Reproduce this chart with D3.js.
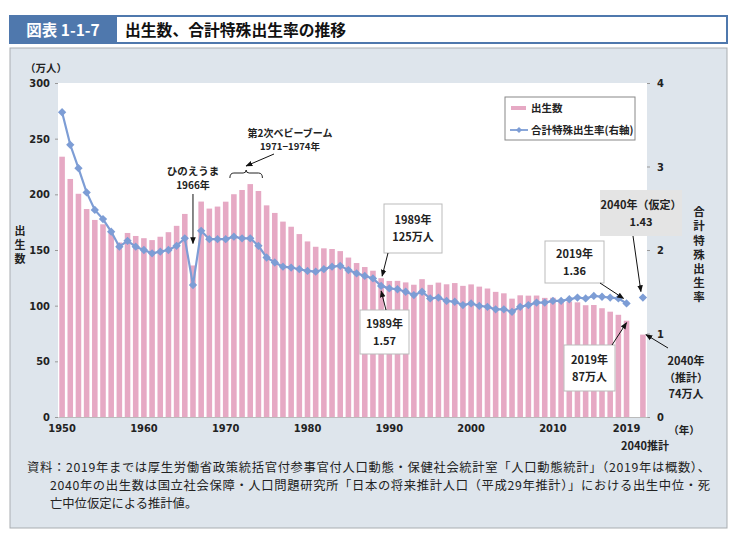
<!DOCTYPE html>
<html><head><meta charset="utf-8">
<script src="https://cdnjs.cloudflare.com/ajax/libs/d3/7.8.5/d3.min.js"></script>
<style>
body{margin:0;background:#fff;}
svg{display:block;font-family:"Noto Sans CJK JP",sans-serif;}
.num{font-family:"Liberation Sans Narrow","DejaVu Sans Condensed","Noto Sans CJK JP",sans-serif;}
.vt{writing-mode:vertical-rl;}
</style></head><body>
<svg id="c" width="734" height="536"></svg>
<script>
// ---- data ----
const years = [1950,1951,1952,1953,1954,1955,1956,1957,1958,1959,
  1960,1961,1962,1963,1964,1965,1966,1967,1968,1969,
  1970,1971,1972,1973,1974,1975,1976,1977,1978,1979,
  1980,1981,1982,1983,1984,1985,1986,1987,1988,1989,
  1990,1991,1992,1993,1994,1995,1996,1997,1998,1999,
  2000,2001,2002,2003,2004,2005,2006,2007,2008,2009,
  2010,2011,2012,2013,2014,2015,2016,2017,2018,2019];
const births = [233.8,213.8,200.5,186.8,177.0,173.1,166.5,156.7,165.3,162.6,
  160.6,158.9,161.9,166.0,171.7,182.4,136.1,193.5,187.2,189.0,
  193.4,200.1,203.9,209.2,203.0,190.1,183.3,175.5,170.9,164.3,
  157.7,152.9,151.5,150.9,149.0,143.2,138.3,134.7,131.4,124.7,
  122.2,122.3,120.9,118.8,123.8,118.7,120.7,119.2,120.3,117.8,
  119.1,117.1,115.4,112.4,111.1,106.3,109.3,109.0,109.1,107.0,
  107.1,105.1,103.7,103.0,100.4,100.6,97.7,94.6,91.8,86.5];
const tfr = [3.65,3.26,2.98,2.69,2.48,2.37,2.22,2.04,2.11,2.04,
  2.00,1.96,1.98,2.00,2.05,2.14,1.58,2.23,2.13,2.13,
  2.13,2.16,2.14,2.14,2.05,1.91,1.85,1.80,1.79,1.77,
  1.75,1.74,1.77,1.80,1.81,1.76,1.72,1.69,1.66,1.57,
  1.54,1.53,1.50,1.46,1.50,1.42,1.43,1.39,1.38,1.34,
  1.36,1.33,1.32,1.29,1.29,1.26,1.32,1.34,1.37,1.37,
  1.39,1.39,1.41,1.43,1.42,1.45,1.44,1.43,1.42,1.36];
const projYear = "2040";
const projBirths = 74;
const projTfr = 1.43;
const leftTicks = [0,50,100,150,200,250,300];
const rightTicks = [0,1,2,3,4];
const xTickLabels = ["1950","1960","1970","1980","1990","2000","2010","2019"];

// ---- layout ----
const svg = d3.select("#c");
const L = 58, R = 647, T = 83, B = 417;
const cats = years.map(String).concat(["gap", projYear]);
const x = d3.scaleBand().domain(cats).range([L, R]).paddingInner(0.32).paddingOuter(0.16);
const yL = d3.scaleLinear().domain([0,300]).range([B, T]);
const yR = d3.scaleLinear().domain([0,4]).range([B, T]);
const cx = k => x(String(k)) + x.bandwidth()/2;

const pink = "#e6a9c4", blue = "#7d9dd5";

// header
svg.append("rect").attr("x",10).attr("y",16).attr("width",717).attr("height",27)
  .attr("fill","#fff").attr("stroke","#4f78ad").attr("stroke-width",2);
svg.append("rect").attr("x",10).attr("y",16).attr("width",107).attr("height",27).attr("fill","#4f78ad");
svg.append("text").attr("x",63).attr("y",35.5).attr("text-anchor","middle")
  .attr("fill","#fff").attr("font-size",15.5).attr("font-weight","bold").text("図表 1-1-7");
svg.append("text").attr("x",125).attr("y",36)
  .attr("fill","#111").attr("font-size",15.8).attr("font-weight","bold").text("出生数、合計特殊出生率の推移");

// panel
svg.append("rect").attr("x",10).attr("y",48).attr("width",717).attr("height",480)
  .attr("fill","#dee5ec").attr("stroke","#a9adb1").attr("stroke-width",1);
svg.append("rect").attr("x",L).attr("y",T).attr("width",R-L).attr("height",B-T).attr("fill","#fff");

// bars
svg.append("g").selectAll("rect").data(years.map((y,i)=>({k:String(y),v:births[i]})).concat([{k:projYear,v:projBirths}]))
  .join("rect")
  .attr("x",d=>x(d.k)).attr("width",x.bandwidth())
  .attr("y",d=>yL(d.v)).attr("height",d=>B-yL(d.v)).attr("fill",pink);

// line
const pts = years.map((y,i)=>({k:String(y),v:tfr[i]}));
svg.append("path").datum(pts)
  .attr("d",d3.line().x(d=>x(d.k)+x.bandwidth()/2).y(d=>yR(d.v)))
  .attr("fill","none").attr("stroke",blue).attr("stroke-width",2.2);
const diamond = d3.symbol().type(d3.symbolDiamond2).size(44);
svg.append("g").selectAll("path").data(pts.concat([{k:projYear,v:projTfr}])).join("path")
  .attr("transform",d=>`translate(${x(d.k)+x.bandwidth()/2},${yR(d.v)})`)
  .attr("d",diamond).attr("fill",blue);

// axes
const axL = svg.append("g").attr("transform",`translate(${L},0)`)
  .call(d3.axisLeft(yL).tickValues(leftTicks).tickSize(3).tickPadding(5));
const axR = svg.append("g").attr("transform",`translate(${R},0)`)
  .call(d3.axisRight(yR).tickValues(rightTicks).tickFormat(d3.format("d")).tickSize(3).tickPadding(7));
[axL,axR].forEach(a=>{
  a.select(".domain").remove();
  a.selectAll("line").attr("stroke","#999");
  a.selectAll("text").attr("class","num").attr("font-size",11).attr("font-weight","bold").attr("fill","#222")
    .attr("font-family",null);
});
const axB = svg.append("g").attr("transform",`translate(0,${B})`)
  .call(d3.axisBottom(x).tickValues(xTickLabels).tickSize(0).tickPadding(7));
axB.select(".domain").attr("stroke","#bbb");
axB.selectAll("text").attr("class","num").attr("font-size",11).attr("font-weight","bold").attr("fill","#222")
  .attr("font-family",null);

function txt(xx,yy,s,opt={}){
  return svg.append("text").attr("x",xx).attr("y",yy).attr("text-anchor",opt.anchor||"middle")
    .attr("font-size",opt.size||11).attr("font-weight",opt.weight||"bold").attr("fill",opt.fill||"#222")
    .text(s);
}
txt(684,434,"（年）",{size:10.5});
txt(cx(projYear)+2,450,"2040推計",{size:11});
txt(46,72,"（万人）",{size:10.5});
// vertical axis titles
svg.append("text").attr("class","vt").attr("x",20).attr("y",225).attr("font-size",11)
  .attr("font-weight","bold").attr("fill","#222").attr("letter-spacing",3).text("出生数");
svg.append("text").attr("class","vt").attr("x",699).attr("y",206).attr("font-size",11.5)
  .attr("font-weight","bold").attr("fill","#222").attr("letter-spacing",2.7).text("合計特殊出生率");

// legend
svg.append("rect").attr("x",505).attr("y",97).attr("width",130).attr("height",43)
  .attr("fill","#fff").attr("stroke","#888");
svg.append("line").attr("x1",511).attr("x2",526).attr("y1",108).attr("y2",108).attr("stroke",pink).attr("stroke-width",4);
txt(531,112,"出生数",{anchor:"start",size:10.5});
svg.append("line").attr("x1",510).attr("x2",528).attr("y1",130).attr("y2",130).attr("stroke",blue).attr("stroke-width",1.8);
svg.append("path").attr("transform","translate(519,130)").attr("d",d3.symbol().type(d3.symbolDiamond2).size(24)).attr("fill",blue);
txt(531,134,"合計特殊出生率(右軸)",{anchor:"start",size:10.5});

// arrows
const defs = svg.append("defs");
defs.append("marker").attr("id","ah").attr("viewBox","0 0 10 10").attr("refX",9).attr("refY",5)
  .attr("markerWidth",7).attr("markerHeight",7).attr("orient","auto-start-reverse")
  .append("path").attr("d","M0,1 L10,5 L0,9 Z").attr("fill","#111");
function arrow(x1,y1,x2,y2){
  svg.append("line").attr("x1",x1).attr("y1",y1).attr("x2",x2).attr("y2",y2)
    .attr("stroke","#111").attr("stroke-width",1).attr("marker-end","url(#ah)");
}
function box(x0,y0,w,h,lines,fill,stroke){
  svg.append("rect").attr("x",x0).attr("y",y0).attr("width",w).attr("height",h)
    .attr("fill",fill||"#fff").attr("stroke",stroke===undefined?"#bbb":stroke);
  lines.forEach((s,i)=>txt(x0+w/2,y0+h/2-4+ (i-(lines.length-1)/2)*17 + 8,s,{size:11}));
}

// ひのえうま
txt(193,175,"ひのえうま",{size:10.5});
txt(193,189,"1966年",{size:10});
arrow(cx(1966),194,cx(1966),yL(136.1)-22);

// 第2次ベビーブーム
txt(290,137,"第2次ベビーブーム",{size:10});
txt(290,150,"1971−1974年",{size:9.5});
arrow(274,154,cx(1972)+4,166);
{
  const x1 = cx(1971)-4, x2 = cx(1974)+4, m = (x1+x2)/2, yb = 178, yt = 173;
  svg.append("path").attr("d",`M${x1},${yb} Q${x1},${yt} ${x1+4},${yt} L${m-3},${yt} Q${m},${yt} ${m},${yt-3} Q${m},${yt} ${m+3},${yt} L${x2-4},${yt} Q${x2},${yt} ${x2},${yb}`)
    .attr("fill","none").attr("stroke","#222").attr("stroke-width",1);
}

// 1989 births
box(384,204,58,49,["1989年","125万人"]);
arrow(388,253,cx(1989)+1,yL(124.7)-2);
// 1989 tfr
box(360,310,49,44,["1989年","1.57"]);
arrow(386,310,cx(1989),yR(1.57)+5);
// 2019 tfr
box(545,241,59,42,["2019年","1.36"]);
arrow(600,283,cx(2019)-3,yR(1.36)-5);
// 2040 tfr
box(600,190,82,46,["2040年（仮定）","1.43"],"#e4e4e4","none");
arrow(633,236,cx(projYear)-2,yR(projTfr)-6);
// 2019 births
box(564,345,51,46,["2019年","87万人"]);
arrow(612,345,cx(2019),yL(86.5)+2);
// 2040 births
txt(686,365,"2040年",{size:11});
txt(686,382,"（推計）",{size:11});
txt(686,398,"74万人",{size:11});
arrow(668,348,cx(projYear)+3,yL(projBirths));

// footnote
const fn = [
  [27,472,"資料：2019年までは厚生労働省政策統括官付参事官付人口動態・保健社会統計室「人口動態統計」（2019年は概数）、",683],
  [50,490,"2040年の出生数は国立社会保障・人口問題研究所「日本の将来推計人口（平成29年推計）」における出生中位・死",660],
  [50,508,"亡中位仮定による推計値。",null]
];
fn.forEach(([xx,yy,s,w])=>{
  const t = svg.append("text").attr("x",xx).attr("y",yy).attr("font-size",12.3)
    .attr("fill","#222").text(s);
  if(w) t.attr("textLength",w);
});
</script>
</body></html>
